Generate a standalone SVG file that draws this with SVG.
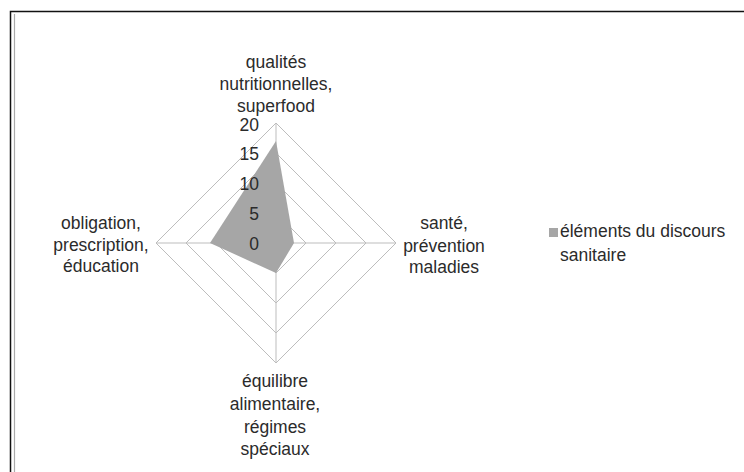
<svg xmlns="http://www.w3.org/2000/svg" width="744" height="472" viewBox="0 0 744 472">
<style>
text{font-family:"Liberation Sans",Arial,sans-serif;font-size:17.5px;fill:#2b2b2b}
.c{text-anchor:middle}
.e{text-anchor:end}
.grid{fill:none;stroke:#bdbdbd;stroke-width:1}
</style>
<rect width="744" height="472" fill="#fff"/>
<g id="frame">
<path d="M10.5 472V11.5H744" fill="none" stroke="#111" stroke-width="1.5"/>
<path d="M14.5 472V14" fill="none" stroke="#aaa" stroke-width="1.2"/>
</g>
<g id="grid" class="grid">
<polygon points="276,213 306,243 276,273 246,243"/>
<polygon points="276,183 336,243 276,303 216,243"/>
<polygon points="276,153 366,243 276,333 186,243"/>
<polygon points="276,123 396,243 276,363 156,243"/>
<path d="M276 123V363M156 243H396"/>
</g>
<g id="series">
<polygon points="276,141 294,243 276,273 210,243" fill="#a6a6a6"/>
</g>
<g id="scale">
<text class="e" x="259" y="131">20</text>
<text class="e" x="259" y="160">15</text>
<text class="e" x="259" y="190">10</text>
<text class="e" x="259" y="220">5</text>
<text class="e" x="259" y="250">0</text>
</g>
<g id="label-top">
<text class="c" x="276" y="67.5">qualités</text>
<text class="c" x="276" y="90">nutritionnelles,</text>
<text class="c" x="276" y="112">superfood</text>
</g>
<g id="label-right">
<text class="c" x="444" y="229">santé,</text>
<text class="c" x="444" y="251.5">prévention</text>
<text class="c" x="444" y="273">maladies</text>
</g>
<g id="label-bottom">
<text class="c" x="275" y="387">équilibre</text>
<text class="c" x="275" y="410">alimentaire,</text>
<text class="c" x="275" y="432.5">régimes</text>
<text class="c" x="275" y="455">spéciaux</text>
</g>
<g id="label-left">
<text class="c" x="101" y="229">obligation,</text>
<text class="c" x="101" y="251">prescription,</text>
<text class="c" x="101" y="272">éducation</text>
</g>
<g id="legend">
<rect x="549" y="228" width="9" height="9" fill="#a6a6a6"/>
<text x="560" y="237">éléments du discours</text>
<text x="560" y="260.5">sanitaire</text>
</g>
</svg>
